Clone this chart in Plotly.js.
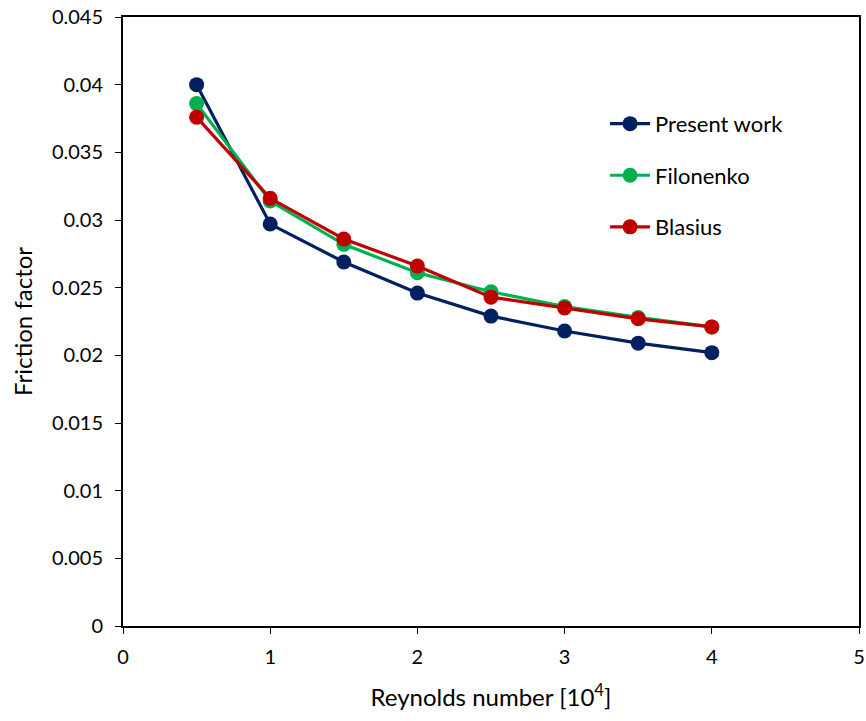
<!DOCTYPE html>
<html>
<head>
<meta charset="utf-8">
<script src="https://cdn.plot.ly/plotly-3.0.1.min.js"></script>
<style>html,body{margin:0;padding:0;background:#fff;}#chart{width:866px;height:721px;}</style>
</head>
<body>
<div id="chart"></div>
<script>
const reynolds = [0.5, 1, 1.5, 2, 2.5, 3, 3.5, 4];
const presentWork = [0.0400, 0.0297, 0.0269, 0.0246, 0.0229, 0.0218, 0.0209, 0.0202];
const filonenko = [0.0386, 0.0314, 0.0282, 0.0261, 0.0247, 0.0236, 0.0228, 0.0221];
const blasius = [0.0376, 0.0316, 0.0286, 0.0266, 0.0243, 0.0235, 0.0227, 0.0221];
const seriesNames = ["Present work", "Filonenko", "Blasius"];
const seriesColors = ["#002060", "#00B050", "#C00000"];
const seriesData = [presentWork, filonenko, blasius];

const font = "Lato, Open Sans, sans-serif";
const traces = seriesData.map((ys, i) => ({
  x: reynolds, y: ys, name: seriesNames[i], type: "scatter", mode: "lines+markers",
  legendgroup: "g" + i,
  line: {color: seriesColors[i], width: 3.2},
  marker: {color: seriesColors[i], size: 15}
}));

const layout = {
  width: 866, height: 721,
  margin: {l: 123, r: 7, t: 17, b: 95},
  paper_bgcolor: "#fff", plot_bgcolor: "#fff",
  font: {family: font, color: "#000", size: 20},
  showlegend: true,
  legend: {x: 0.655, y: 0.859, xanchor: "left", yanchor: "top", traceorder: "grouped",
           tracegroupgap: 20, font: {size: 22, family: font}, bgcolor: "rgba(0,0,0,0)", itemwidth: 40},
  xaxis: {range: [0, 5], dtick: 1, tick0: 0, showgrid: false, zeroline: false,
          showline: true, linecolor: "#000", linewidth: 2, mirror: true,
          ticks: "outside", ticklen: 6, tickcolor: "#000", tickwidth: 1, ticklabelstandoff: 6,
          tickfont: {size: 20}, title: {text: "Reynolds number [10<sup>4</sup>]", font: {size: 24}, standoff: 22}},
  yaxis: {range: [0, 0.045], dtick: 0.005, tick0: 0, showgrid: false, zeroline: false,
          showline: true, linecolor: "#000", linewidth: 2, mirror: true,
          ticks: "outside", ticklen: 6, tickcolor: "#000", tickwidth: 1, ticklabelstandoff: 8,
          tickfont: {size: 20}, title: {text: "Friction factor", font: {size: 24}, standoff: 12}}
};
Plotly.newPlot("chart", traces, layout, {displayModeBar: false, staticPlot: true});
</script>
</body>
</html>
